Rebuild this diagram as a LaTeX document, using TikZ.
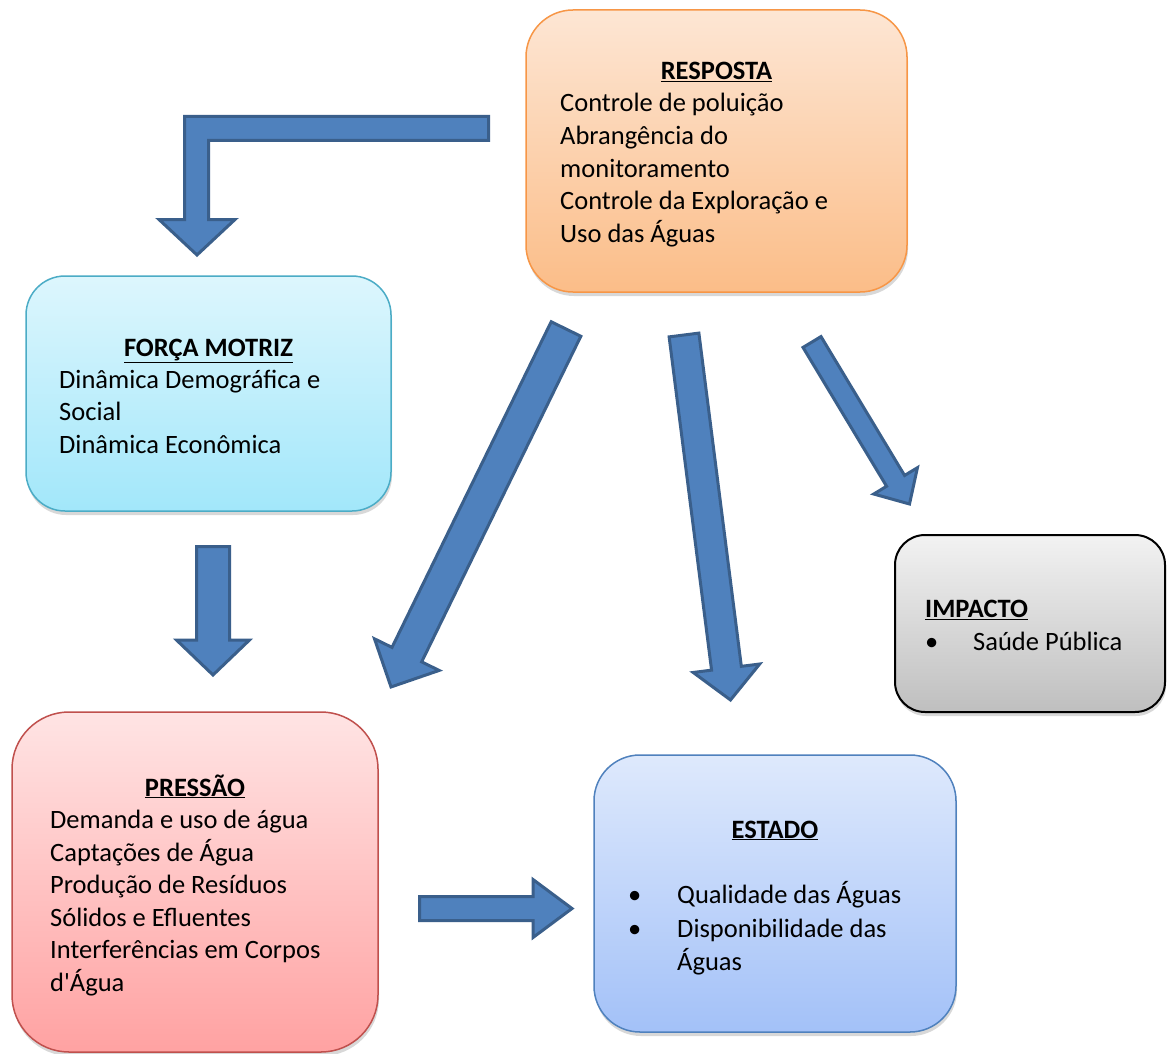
\documentclass[tikz,border=0pt]{standalone}
\usepackage{fontspec}
\setmainfont{Carlito}
\usetikzlibrary{shadows}
\definecolor{arrfill}{HTML}{4F81BD}
\definecolor{arrline}{HTML}{3A5F8B}
\definecolor{orTop}{HTML}{FDE6D4}
\definecolor{orBot}{HTML}{FBBD88}
\definecolor{orLine}{HTML}{F79646}
\definecolor{cyTop}{HTML}{DDF6FD}
\definecolor{cyBot}{HTML}{A2E7FA}
\definecolor{cyLine}{HTML}{4BACC6}
\definecolor{gyTop}{HTML}{F2F2F2}
\definecolor{gyBot}{HTML}{BFBFBF}
\definecolor{rdTop}{HTML}{FFE4E4}
\definecolor{rdBot}{HTML}{FFA2A2}
\definecolor{rdLine}{HTML}{C0504D}
\definecolor{blTop}{HTML}{DEE9FC}
\definecolor{blBot}{HTML}{A3C1F8}
\definecolor{blLine}{HTML}{4F81BD}
\newcommand\blkarrow[5]{%
  \pgfpointdiff{\pgfpointanchor{#1}{center}}{\pgfpointanchor{#2}{center}}%
  \pgfgetlastxy{\bax}{\bay}%
  \pgfmathsetmacro\baang{atan2(\bay,\bax)}%
  \pgfmathsetmacro\balen{veclen(\bax,\bay)}%
  \begin{scope}[shift={(#1)},rotate=\baang,x=1pt,y=1pt]
    \draw[barrow] (0,-#3/2) -- (\balen-#5,-#3/2) -- (\balen-#5,-#4/2) -- (\balen,0)
      -- (\balen-#5,#4/2) -- (\balen-#5,#3/2) -- (0,#3/2) -- cycle;
  \end{scope}}
\tikzset{
  barrow/.style={fill=arrfill, draw=arrline, line width=3pt, line join=miter},
  box/.style={rounded corners=#1, inner sep=0pt, line width=1.5pt,
    drop shadow={shadow xshift=1pt, shadow yshift=-4pt, opacity=0.3}},
  txt/.style={inner sep=0pt, anchor=base west, font=\fontsize{26.5pt}{32.5pt}\selectfont},
  ttl/.style={inner sep=0pt, anchor=base, font=\fontsize{26.5pt}{32.5pt}\selectfont\bfseries},
}
\begin{document}
\begin{tikzpicture}[x=1pt,y=-1pt]
\useasboundingbox[fill=white] (0,0) rectangle (1172,1054);

% boxes
\node[box=47pt, draw=orLine, top color=orTop, bottom color=orBot,
  minimum width=381pt, minimum height=282pt] (resp) at (716.5,151) {};
\node[box=39pt, draw=cyLine, top color=cyTop, bottom color=cyBot,
  minimum width=365pt, minimum height=235pt] (forca) at (208.5,393.5) {};
\node[box=30pt, draw=black, line width=2pt, top color=gyTop, bottom color=gyBot,
  minimum width=270pt, minimum height=177pt] (imp) at (1030,623.5) {};
\node[box=57pt, draw=rdLine, top color=rdTop, bottom color=rdBot,
  minimum width=366pt, minimum height=340pt] (pres) at (195,882) {};
\node[box=46pt, draw=blLine, top color=blTop, bottom color=blBot,
  minimum width=362pt, minimum height=277pt] (est) at (775,893.5) {};

% RESPOSTA text
\node[ttl] (respT) at (716.5,79.5) {\underline{RESPOSTA}};
\node[txt] (r1) at (560,112) {Controle de poluição};
\node[txt] (r2) at (560,144.5) {Abrangência do};
\node[txt] (r3) at (560,177) {monitoramento};
\node[txt] (r4) at (560,209.5) {Controle da Exploração e};
\node[txt] (r5) at (560,242) {Uso das Águas};

% FORCA text
\node[ttl] (forT) at (208.5,356) {\underline{FORÇA MOTRIZ}};
\node[txt] (f1) at (59,388) {Dinâmica Demográfica e};
\node[txt] (f2) at (59,420.5) {Social};
\node[txt] (f3) at (59,453) {Dinâmica Econômica};

% IMPACTO text
\node[txt, font=\fontsize{26.5pt}{32.5pt}\selectfont\bfseries] (impT) at (925,617.5) {\underline{IMPACTO}};
\node[txt] (ib) at (925,650) {•};
\node[txt] (i1) at (973,650) {Saúde Pública};

% PRESSAO text
\node[ttl] (preT) at (195,796) {\underline{PRESSÃO}};
\node[txt] (p1) at (50,828.5) {Demanda e uso de água};
\node[txt] (p2) at (50,861) {Captações de Água};
\node[txt] (p3) at (50,893.5) {Produção de Resíduos};
\node[txt] (p4) at (50,926) {Sólidos e Efluentes};
\node[txt] (p5) at (50,958.5) {Interferências em Corpos};
\node[txt] (p6) at (50,991) {d\textquotesingle Água};

% ESTADO text
\node[ttl] (estT) at (775,838) {\underline{ESTADO}};
\node[txt] (eb1) at (628,903) {•};
\node[txt] (e1) at (677,903) {Qualidade das Águas};
\node[txt] (eb2) at (628,937) {•};
\node[txt] (e2) at (677,937) {Disponibilidade das};
\node[txt] (e3) at (677,970) {Águas};

% arrow anchors
\coordinate (a1s) at (566,329);
\coordinate (a1e) at (391,687);
\coordinate (a2s) at (684,335);
\coordinate (a2e) at (730.5,700);
\coordinate (a3s) at (812,342);
\coordinate (a3e) at (909.5,504);
\coordinate (a4s) at (213,546.5);
\coordinate (a4e) at (213,675);
\coordinate (a5s) at (419.5,908.5);
\coordinate (a5e) at (572,908.5);

\blkarrow{a1s}{a1e}{33}{72}{36}
\blkarrow{a2s}{a2e}{30}{67}{32}
\blkarrow{a3s}{a3e}{21}{51}{27}
\blkarrow{a4s}{a4e}{33}{73}{35}
\blkarrow{a5s}{a5e}{24}{58}{39}

% bent arrow from RESPOSTA to FORCA MOTRIZ
\coordinate (b0) at (488.5,116.5);
\coordinate (bt) at (197,255);
\draw[barrow] (b0) -- (184.5,116.5) -- (184.5,219.5) -- (159,219.5) -- (bt)
  -- (235,219.5) -- (208.5,219.5) -- (208.5,140.5) -- (488.5,140.5) -- cycle;
\end{tikzpicture}
\end{document}
